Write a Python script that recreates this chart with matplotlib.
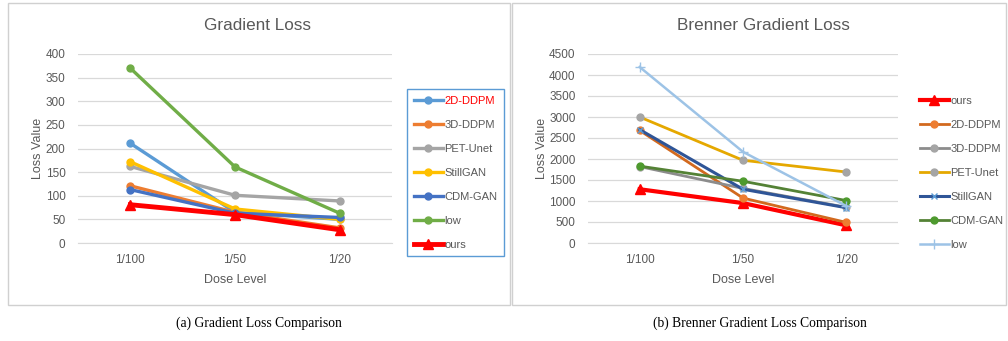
import matplotlib
matplotlib.use("Agg")
import matplotlib.pyplot as plt
from matplotlib.patches import Rectangle

doses = ["1/100", "1/50", "1/20"]

# (a) Gradient Loss
grad_names = ["2D-DDPM", "3D-DDPM", "PET-Unet", "StillGAN", "CDM-GAN", "low", "ours"]
grad_2d_ddpm = [211, 65, 50]
grad_3d_ddpm = [121, 65, 32]
grad_pet_unet = [162, 101, 89]
grad_stillgan = [172, 72, 50]
grad_cdm_gan = [113, 63, 54]
grad_low = [370, 161, 63]
grad_ours = [81, 60, 28]

# (b) Brenner Gradient Loss
bren_names = ["ours", "2D-DDPM", "3D-DDPM", "PET-Unet", "StillGAN", "CDM-GAN", "low"]
bren_ours = [1280, 950, 420]
bren_2d_ddpm = [2680, 1070, 490]
bren_3d_ddpm = [1820, 1300, 850]
bren_pet_unet = [3000, 1970, 1690]
bren_stillgan = [2700, 1280, 840]
bren_cdm_gan = [1830, 1470, 1010]
bren_low = [4190, 2170, 880]

W, H = 1008, 341
fig = plt.figure(figsize=(W / 100, H / 100), dpi=100)
plt.rcParams["font.family"] = ["Liberation Sans", "DejaVu Sans"]

TXT = "#595959"
GRID = "#D9D9D9"


def px_axes(x0, y0, x1, y1):
    return fig.add_axes([x0 / W, 1 - y1 / H, (x1 - x0) / W, (y1 - y0) / H])


def style(ax, ymax, step, title, title_x):
    ax.set_xlim(-0.5, 2.5)
    ax.set_ylim(0, ymax)
    ax.set_yticks(range(0, ymax + 1, step))
    ax.set_xticks(range(3))
    ax.set_xticklabels(doses)
    ax.grid(axis="y", color=GRID, lw=0.9)
    ax.set_axisbelow(True)
    for s in ax.spines.values():
        s.set_visible(False)
    ax.spines["bottom"].set_visible(True)
    ax.spines["bottom"].set_color(GRID)
    ax.tick_params(length=0, colors=TXT, labelsize=8.5, pad=9)
    ax.tick_params(axis="x", pad=8)
    ax.set_xlabel("Dose Level", color=TXT, fontsize=9, labelpad=6)
    ax.set_ylabel("Loss Value", color=TXT, fontsize=9, labelpad=1)
    fig.text(title_x / W, 1 - 26 / H, title, color=TXT, fontsize=12.3,
             ha="center", va="center")


def legend(ax, x, y, **kw):
    leg = ax.legend(loc="upper left", bbox_to_anchor=(x / W, 1 - y / H),
                    bbox_transform=fig.transFigure, borderaxespad=0,
                    fontsize=8, labelspacing=1.26, handlelength=2.6,
                    handletextpad=0.15, borderpad=0.6, **kw)
    for t in leg.get_texts():
        t.set_color(TXT)
    return leg


# panel frames
fig.add_artist(Rectangle((8 / W, 1 - 305 / H), 502 / W, 302 / H,
                         transform=fig.transFigure, fill=False, ec="#D0D0D0", lw=1))
fig.add_artist(Rectangle((512 / W, 1 - 305 / H), 494 / W, 302 / H,
                         transform=fig.transFigure, fill=False, ec="#D0D0D0", lw=1))

# ---------- (a) ----------
ax1 = px_axes(78, 54, 392, 243)
series_a = [grad_2d_ddpm, grad_3d_ddpm, grad_pet_unet, grad_stillgan,
            grad_cdm_gan, grad_low]
colors_a = ["#5B9BD5", "#ED7D31", "#A5A5A5", "#FFC000", "#4472C4", "#70AD47"]
for name, vals, c in zip(grad_names[:6], series_a, colors_a):
    ax1.plot(range(3), vals, color=c, lw=2.4, marker="o", ms=5, label=name)
ax1.plot(range(3), grad_ours, color="#FF0000", lw=3.5, marker="^", ms=7.5,
         label="ours")
style(ax1, 400, 50, "Gradient Loss", 257)
leg1 = legend(ax1, 407, 89, fancybox=False, edgecolor="#5B9BD5", framealpha=1)
leg1.get_frame().set_linewidth(1)
leg1.get_texts()[0].set_color("#FF0000")

# ---------- (b) ----------
ax2 = px_axes(588, 54, 898, 243)
ax2.plot(range(3), bren_ours, color="#FF0000", lw=3, marker="^", ms=7.5,
         label="ours")
ax2.plot(range(3), bren_2d_ddpm, color="#D2691E", lw=2, marker="o", ms=5,
         mfc="#ED7D31", mec="#ED7D31", label="2D-DDPM")
ax2.plot(range(3), bren_3d_ddpm, color="#8C8C8C", lw=2, marker="o", ms=5,
         mfc="#A5A5A5", mec="#A5A5A5", label="3D-DDPM")
ax2.plot(range(3), bren_pet_unet, color="#E5A800", lw=2, marker="o", ms=5,
         mfc="#A5A5A5", mec="#A5A5A5", label="PET-Unet")
ax2.plot(range(3), bren_stillgan, color="#2F5597", lw=2.2, marker="x", ms=5,
         mec="#5B9BD5", label="StillGAN")
ax2.plot(range(3), bren_cdm_gan, color="#548235", lw=2, marker="o", ms=5,
         mfc="#4E9A2E", mec="#4E9A2E", label="CDM-GAN")
ax2.plot(range(3), bren_low, color="#9DC3E6", lw=1.8, marker="+", ms=7,
         label="low")
style(ax2, 4500, 500, "Brenner Gradient Loss", 763)
legend(ax2, 913, 89, frameon=False)

# captions
fig.text(259 / W, 1 - 323 / H, "(a) Gradient Loss Comparison",
         family="Liberation Serif", fontsize=9.8, ha="center", va="center")
fig.text(760 / W, 1 - 323 / H, "(b) Brenner Gradient Loss Comparison",
         family="Liberation Serif", fontsize=9.8, ha="center", va="center")

fig.savefig("out.png", dpi=100)
